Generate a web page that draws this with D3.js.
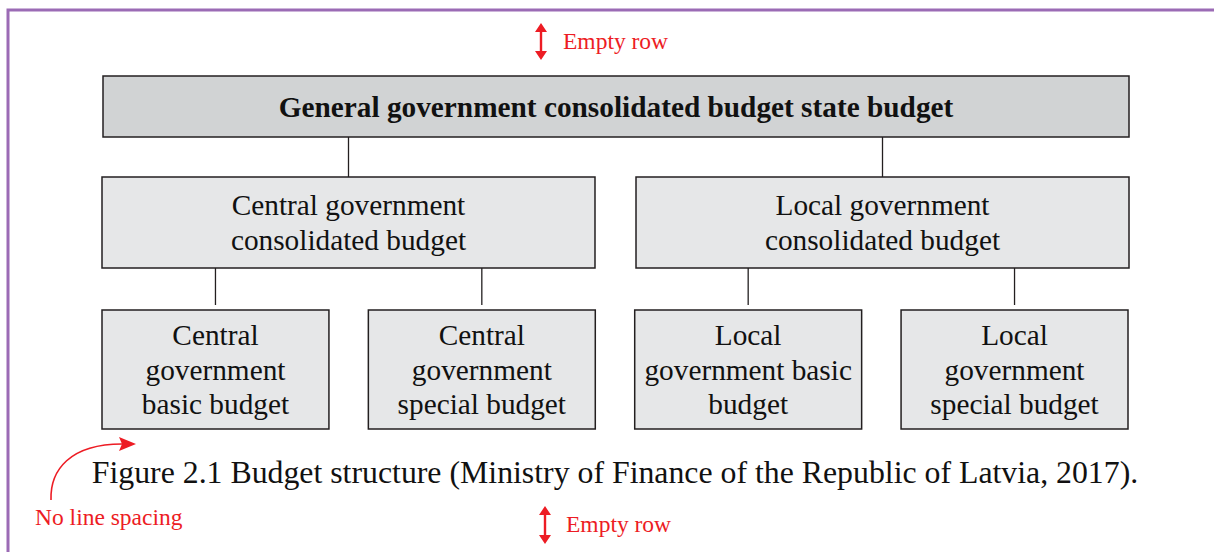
<!DOCTYPE html>
<html><head><meta charset="utf-8">
<script src="https://cdn.jsdelivr.net/npm/d3@7"></script>
<style>html,body{margin:0;padding:0;background:#fff}svg{display:block}</style>
</head><body>
<svg id="c" width="1214" height="552"></svg>
<script>
// Node labels (levels of the budget structure)
const topLabel = ["General government consolidated budget state budget"];
const level2Labels = [["Central government","consolidated budget"],["Local government","consolidated budget"]];
const level3Labels = [
  ["Central","government","basic budget"],
  ["Central","government","special budget"],
  ["Local","government basic","budget"],
  ["Local","government","special budget"]
];
const captionText = "Figure 2.1 Budget structure (Ministry of Finance of the Republic of Latvia, 2017).";
const notes = ["Empty row","No line spacing","Empty row"];

const svg = d3.select("#c");
const serif = "'Liberation Serif','Times New Roman',serif";
const stroke = "#231f20";

// frame
svg.append("path").attr("d","M8,552 L8,10 L1214,10").attr("fill","none").attr("stroke","#9b6bb5").attr("stroke-width",3);

// horizontal band scales
const x2 = d3.scaleBand().domain(d3.range(level2Labels.length)).range([102,1129]).paddingInner(0.0768);
const x3 = d3.scaleBand().domain(d3.range(level3Labels.length)).range([102,1128]).paddingInner(0.148);

// connectors
const g = svg.append("g");
level2Labels.forEach((d,i)=>{
  const cx = x2(i)+x2.bandwidth()/2;
  g.append("line").attr("x1",cx).attr("x2",cx).attr("y1",137).attr("y2",177).attr("stroke",stroke).attr("stroke-width",1.3);
});
level3Labels.forEach((d,i)=>{
  const cx = x3(i)+x3.bandwidth()/2;
  g.append("line").attr("x1",cx).attr("x2",cx).attr("y1",268).attr("y2",305).attr("stroke",stroke).attr("stroke-width",1.3);
});

const fs = 29.3;
// top box
svg.append("rect").attr("x",103).attr("y",76).attr("width",1026).attr("height",61)
  .attr("fill","#d1d3d4").attr("stroke",stroke).attr("stroke-width",1.5);
svg.append("text").attr("x",616).attr("y",117).attr("text-anchor","middle")
  .attr("font-family",serif).attr("font-weight","bold").attr("font-size",fs).attr("fill","#111")
  .text(topLabel[0]);

// level 2
const l2 = svg.selectAll(".l2").data(level2Labels).join("g");
l2.append("rect").attr("x",(d,i)=>x2(i)).attr("y",177).attr("width",x2.bandwidth()).attr("height",91)
  .attr("fill","#e6e7e8").attr("stroke",stroke).attr("stroke-width",1.5);
l2.each(function(d,i){
  const t = d3.select(this).append("text").attr("text-anchor","middle").attr("font-family",serif)
    .attr("font-size",fs).attr("fill","#111");
  d.forEach((line,j)=>t.append("tspan").attr("x",x2(i)+x2.bandwidth()/2).attr("y",215+j*34.5).text(line));
});

// level 3
const l3 = svg.selectAll(".l3").data(level3Labels).join("g");
l3.append("rect").attr("x",(d,i)=>x3(i)).attr("y",310).attr("width",x3.bandwidth()).attr("height",119)
  .attr("fill","#e6e7e8").attr("stroke",stroke).attr("stroke-width",1.5);
l3.each(function(d,i){
  const t = d3.select(this).append("text").attr("text-anchor","middle").attr("font-family",serif)
    .attr("font-size",fs).attr("fill","#111");
  d.forEach((line,j)=>t.append("tspan").attr("x",x3(i)+x3.bandwidth()/2).attr("y",345+j*34.5).text(line));
});

// caption
svg.append("text").attr("x",615).attr("y",483).attr("text-anchor","middle")
  .attr("font-family",serif).attr("font-size",31.8).attr("fill","#111").text(captionText);

// red annotations
const red = "#ed1c24";
function dblArrow(x, y1, y2){
  const h = 9, w = 6;
  svg.append("path").attr("d",`M${x},${y1} L${x+w},${y1+h} L${x+1.2},${y1+h} L${x+1.2},${y2-h} L${x+w},${y2-h} L${x},${y2} L${x-w},${y2-h} L${x-1.2},${y2-h} L${x-1.2},${y1+h} L${x-w},${y1+h} Z`)
    .attr("fill",red);
}
dblArrow(541,23,60);
svg.append("text").attr("x",563).attr("y",49).attr("font-family",serif).attr("font-size",23.5).attr("fill",red).text(notes[0]);
dblArrow(545,506,544);
svg.append("text").attr("x",566).attr("y",532).attr("font-family",serif).attr("font-size",23.5).attr("fill",red).text(notes[2]);
svg.append("text").attr("x",35).attr("y",525).attr("font-family",serif).attr("font-size",23.5).attr("fill",red).text(notes[1]);
svg.append("path").attr("d","M51,500 C50,470 70,444 122,444").attr("fill","none").attr("stroke",red).attr("stroke-width",1.6);
svg.append("path").attr("d","M136,444 L119,437 L122,444 L119,451 Z").attr("fill",red);
</script>
</body></html>
